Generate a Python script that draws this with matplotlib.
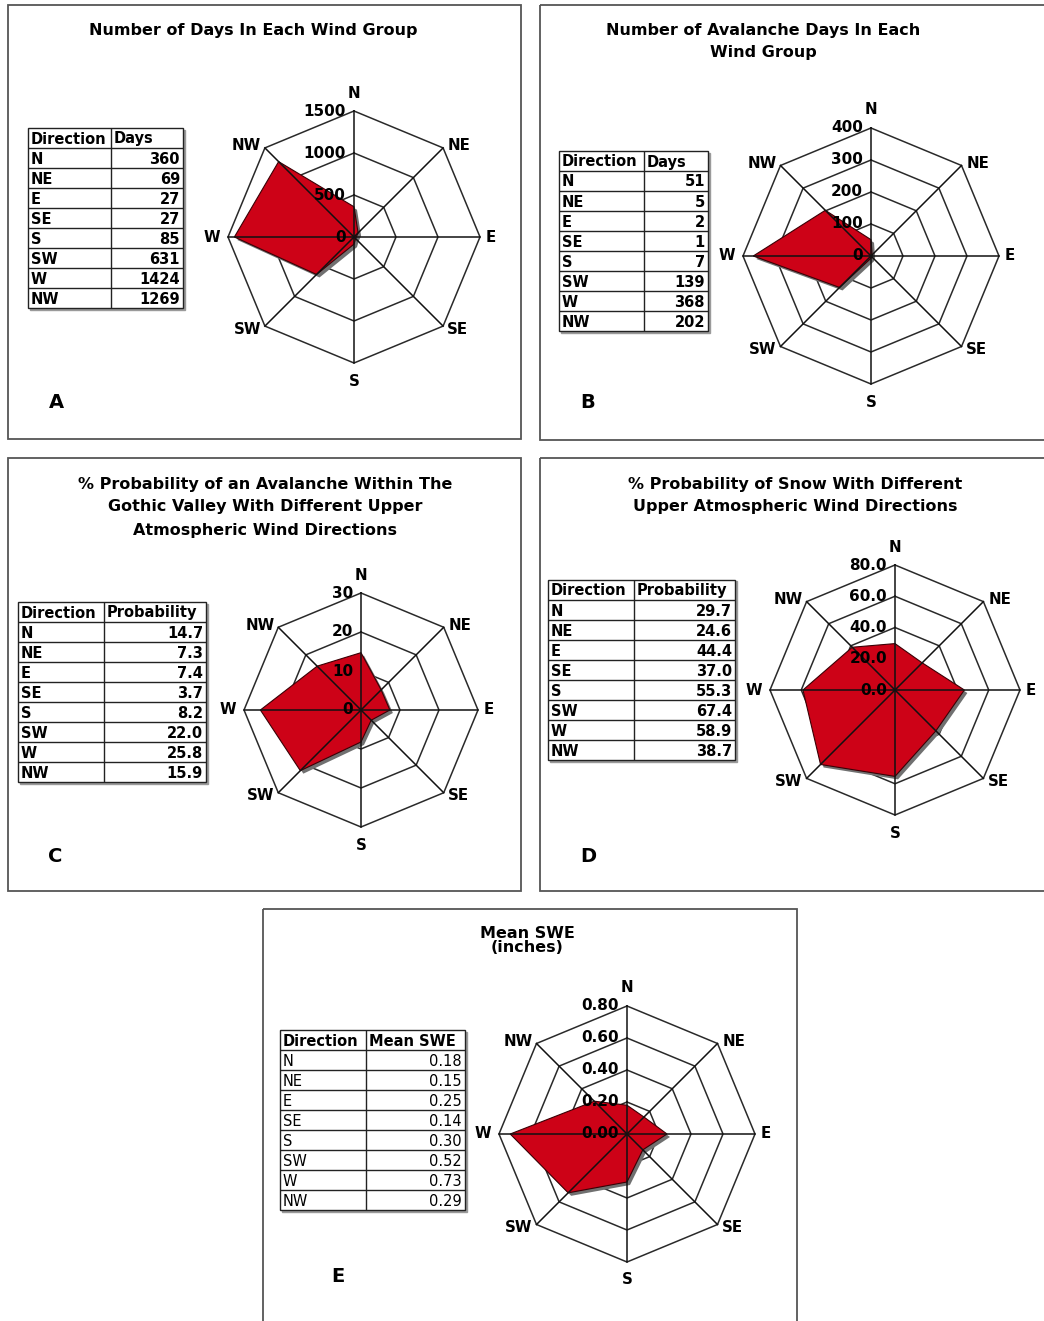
import numpy as np
import matplotlib
matplotlib.use('Agg')
import matplotlib.pyplot as plt
from matplotlib.patches import Rectangle

# ---- data ----
directions = ['N', 'NE', 'E', 'SE', 'S', 'SW', 'W', 'NW']

days_all = [360, 69, 27, 27, 85, 631, 1424, 1269]
days_aval = [51, 5, 2, 1, 7, 139, 368, 202]
prob_aval = [14.7, 7.3, 7.4, 3.7, 8.2, 22.0, 25.8, 15.9]
prob_snow = [29.7, 24.6, 44.4, 37.0, 55.3, 67.4, 58.9, 38.7]
mean_swe = [0.18, 0.15, 0.25, 0.14, 0.30, 0.52, 0.73, 0.29]

ticks_a = [0, 500, 1000, 1500]
ticks_b = [0, 100, 200, 300, 400]
ticks_c = [0, 10, 20, 30]
ticks_d = [0.0, 20.0, 40.0, 60.0, 80.0]
ticks_e = [0.00, 0.20, 0.40, 0.60, 0.80]

W, H = 1044, 1321
fig = plt.figure(figsize=(W / 100, H / 100), dpi=100)
fig.patch.set_facecolor('white')

# background axes in pixel coordinates for frames, titles and letters
bg = fig.add_axes([0, 0, 1, 1])
bg.set_xlim(0, W)
bg.set_ylim(H, 0)
bg.axis('off')

RED = '#CD0217'

# label offsets beside each outer vertex (px) and alignment
lab_off = {'N': (0, 18, 'center'), 'NE': (5, 2, 'left'), 'E': (6, 0, 'left'),
           'SE': (4, -3, 'left'), 'S': (0, -18, 'center'), 'SW': (-4, -3, 'right'),
           'W': (-8, 0, 'right'), 'NW': (-4, 2, 'right')}


def px_axes(x0, y0, w, h):
    return fig.add_axes([x0 / W, 1 - (y0 + h) / H, w / W, h / H])


def radar(cx, cy, R, values, ticks, fmt):
    pad = 40
    ax = px_axes(cx - R - pad, cy - R - pad, 2 * (R + pad), 2 * (R + pad))
    rmax = ticks[-1]
    k = rmax / R  # data units per pixel
    lim = (R + pad) * k
    ax.set_xlim(-lim, lim)
    ax.set_ylim(-lim, lim)
    ax.set_aspect('equal')
    ax.axis('off')
    ang = np.pi / 2 - np.arange(8) * np.pi / 4
    ca, sa = np.cos(ang), np.sin(ang)
    # rings
    for t in ticks[1:]:
        ax.plot(np.append(ca, ca[0]) * t, np.append(sa, sa[0]) * t,
                color='#2a2a2a', lw=1.1, zorder=1)
    # polygon + shadow
    v = np.array(values)
    ax.fill(v * ca + 3 * k, v * sa - 3 * k, color='#707070', zorder=2, lw=0)
    ax.fill(v * ca, v * sa, facecolor=RED, edgecolor='#3a0005', lw=0.8, zorder=3)
    # spokes
    for c, s in zip(ca, sa):
        ax.plot([0, c * rmax], [0, s * rmax], color='#111111', lw=1.1, zorder=4)
    # tick labels
    for t in ticks:
        ax.text(-8 * k, t, fmt.format(t), ha='right', va='center',
                fontsize=11, fontweight='bold', zorder=5)
    # direction labels
    for d, c, s in zip(directions, ca, sa):
        dx, dy, ha = lab_off[d]
        ax.text(c * rmax + dx * k, s * rmax + dy * k, d, ha=ha, va='center',
                fontsize=10.8, fontweight='bold')


def table(x0, y0, x1, split, col2, values, fmt, body_bold=True):
    rh = 20
    n = len(values) + 1
    ax = px_axes(x0, y0, x1 - x0, rh * n)
    ax.set_xlim(x0, x1)
    ax.set_ylim(y0 + rh * n, y0)
    ax.axis('off')
    ax.add_patch(Rectangle((x0 + 1.5, y0 + 1.5), x1 - x0, rh * n, color='#9a9a9a',
                           zorder=0, clip_on=False))
    ax.add_patch(Rectangle((x0, y0), x1 - x0, rh * n, facecolor='white',
                           edgecolor='#222222', lw=1.0, zorder=1, clip_on=False))
    for i in range(1, n):
        ax.plot([x0, x1], [y0 + i * rh, y0 + i * rh], color='#222222', lw=1.0, zorder=2)
    ax.plot([split, split], [y0, y0 + rh * n], color='#222222', lw=1.0, zorder=2)
    ax.text(x0 + 3, y0 + rh / 2 + 1, 'Direction', ha='left', va='center',
            fontsize=10.5, fontweight='bold', zorder=3)
    ax.text(split + 3, y0 + rh / 2 + 1, col2, ha='left', va='center',
            fontsize=10.5, fontweight='bold', zorder=3)
    wt = 'bold' if body_bold else 'normal'
    for i, (d, v) in enumerate(zip(directions, values)):
        yy = y0 + (i + 1.5) * rh + 1
        ax.text(x0 + 3, yy, d, ha='left', va='center', fontsize=10.5, fontweight=wt, zorder=3)
        ax.text(x1 - 3, yy, fmt.format(v), ha='right', va='center', fontsize=10.5,
                fontweight=wt, zorder=3)


def frame(x0, y0, x1, y1):
    bg.add_patch(Rectangle((x0, y0), x1 - x0, y1 - y0, fill=False,
                           edgecolor='#555555', lw=1.3))


def title(x, ys, lines):
    for y, s in zip(ys, lines):
        bg.text(x, y, s, ha='center', va='center', fontsize=11.5, fontweight='bold')


def letter(x, y, s):
    bg.text(x, y, s, ha='center', va='center', fontsize=14, fontweight='bold')


# ---- Panel A ----
frame(8, 5, 521, 439)
title(253, [30], ['Number of Days In Each Wind Group'])
table(28, 128, 183, 111, 'Days', days_all, '{:d}')
radar(354, 237, 126, days_all, ticks_a, '{:d}')
letter(56, 403, 'A')

# ---- Panel B ----
frame(540, 5, 1050, 440)
title(763, [30, 53], ['Number of Avalanche Days In Each', 'Wind Group'])
table(559, 151, 708, 644, 'Days', days_aval, '{:d}')
radar(871, 256, 128, days_aval, ticks_b, '{:d}')
letter(588, 403, 'B')

# ---- Panel C ----
frame(8, 458, 521, 891)
title(265, [484, 507, 530], ['% Probability of an Avalanche Within The',
                             'Gothic Valley With Different Upper',
                             'Atmospheric Wind Directions'])
table(18, 602, 206, 104, 'Probability', prob_aval, '{:.1f}')
radar(361, 710, 117, prob_aval, ticks_c, '{:d}')
letter(55, 857, 'C')

# ---- Panel D ----
frame(540, 458, 1050, 891)
title(795, [484, 507], ['% Probability of Snow With Different',
                        'Upper Atmospheric Wind Directions'])
table(548, 580, 735, 634, 'Probability', prob_snow, '{:.1f}')
radar(895, 690, 125, prob_snow, ticks_d, '{:.1f}')
letter(588, 857, 'D')

# ---- Panel E ----
frame(263, 909, 797, 1330)
title(527, [934, 948], ['Mean SWE', '(inches)'])
table(280, 1030, 465, 366, 'Mean SWE', mean_swe, '{:.2f}', body_bold=False)
radar(627, 1134, 128, mean_swe, ticks_e, '{:.2f}')
letter(338, 1277, 'E')

plt.savefig('out.png', dpi=100)
